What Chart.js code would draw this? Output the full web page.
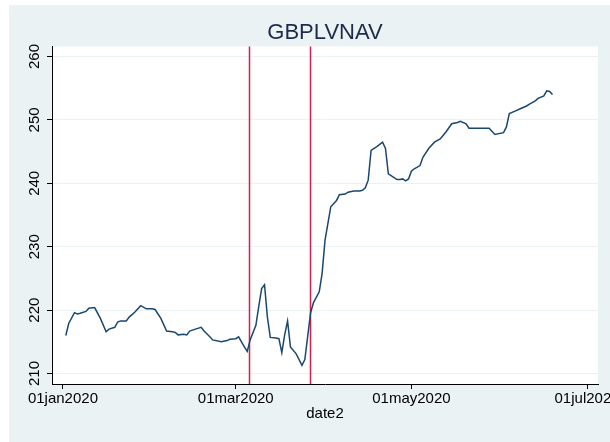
<!DOCTYPE html>
<html>
<head>
<meta charset="utf-8">
<title>GBPLVNAV</title>
<script src="https://cdn.jsdelivr.net/npm/chart.js@4.4.1/dist/chart.umd.min.js"></script>
<style>
    html, body { margin: 0; padding: 0; background: #ffffff; }
    #navChart { display: block; }
</style>
</head>
<body>
<canvas id="navChart" width="610" height="442"></canvas>
<script>
// Days since 01jan2020 and the NAV read for each of them
const dayOffsets = [
    1, 2, 4, 5, 6, 8, 9, 11, 13, 15, 16, 18, 19, 20, 22, 23, 25, 27, 29, 31,
    32, 34, 36, 38, 39, 40, 42, 43, 44, 46, 48, 49, 51, 52, 55, 57, 58, 60, 61, 63,
    64, 65, 67, 68, 69, 70, 71, 72, 74, 75, 76, 77, 78, 79, 81, 83, 84, 86, 87, 89,
    90, 91, 93, 95, 96, 98, 99, 101, 103, 104, 105, 106, 107, 109, 111, 112, 113, 115, 116, 117,
    118, 119, 120, 121, 122, 124, 125, 127, 129, 131, 133, 135, 137, 138, 140, 141, 144, 146, 148, 150,
    153, 154, 155, 157, 159, 161, 162, 164, 165, 167, 168, 169, 170
];
const navValues = [
    216.0, 217.9, 219.6, 219.4, 219.5, 219.8, 220.3, 220.4, 218.7, 216.6, 217.0, 217.3, 218.1, 218.3, 218.3, 218.9, 219.7, 220.7, 220.2, 220.2,
    220.1, 218.7, 216.7, 216.6, 216.5, 216.1, 216.2, 216.1, 216.7, 217.0, 217.3, 216.7, 215.8, 215.3, 215.0, 215.2, 215.4, 215.5, 215.8, 214.2,
    213.5, 215.3, 217.6, 220.6, 223.4, 224.0, 218.9, 215.7, 215.6, 215.5, 213.3, 216.1, 218.3, 214.2, 213.1, 211.3, 212.2, 219.6, 221.2, 222.9,
    225.8, 231.0, 236.3, 237.3, 238.2, 238.3, 238.6, 238.8, 238.8, 238.9, 239.3, 240.5, 245.2, 245.8, 246.5, 245.5, 241.5, 240.9, 240.6, 240.6,
    240.7, 240.4, 240.7, 241.9, 242.3, 242.8, 244.1, 245.5, 246.5, 247.0, 248.1, 249.4, 249.6, 249.8, 249.4, 248.7, 248.7, 248.7, 248.7, 247.7,
    248.0, 248.9, 251.0, 251.4, 251.8, 252.2, 252.5, 253.0, 253.4, 253.8, 254.6, 254.5, 254.0
];

// Vertical markers (days since 01jan2020)
const eventDays = [65, 86];

const xTickDays = [0, 60, 121, 182];
const xTickLabels = ['01jan2020', '01mar2020', '01may2020', '01jul2020'];
const yTickValues = [210, 220, 230, 240, 250, 260];

const FONT = '"Liberation Sans", Arial, sans-serif';
const BG = '#EAF2F3';

// Paints the outer panel and the white plot region
const backgroundPlugin = {
    id: 'stataBackground',
    beforeDraw(chart) {
        const { ctx, chartArea } = chart;
        ctx.save();
        ctx.fillStyle = '#ffffff';
        ctx.fillRect(0, 0, chart.width, chart.height);
        ctx.fillStyle = BG;
        ctx.fillRect(9, 5, chart.width - 9, chart.height - 5);
        ctx.fillStyle = '#ffffff';
        ctx.fillRect(chartArea.left, chartArea.top, chartArea.right - chartArea.left, chartArea.bottom - chartArea.top);
        ctx.restore();
    }
};

// Draws the red xline markers across the plot region
const eventLinesPlugin = {
    id: 'eventLines',
    beforeDatasetsDraw(chart) {
        const { ctx, chartArea, scales } = chart;
        ctx.save();
        ctx.strokeStyle = '#D81E4A';
        ctx.lineWidth = 1.5;
        eventDays.forEach(day => {
            const x = Math.round(scales.x.getPixelForValue(day)) - 0.5;
            ctx.beginPath();
            ctx.moveTo(x, chartArea.top);
            ctx.lineTo(x, chartArea.bottom);
            ctx.stroke();
        });
        ctx.restore();
    }
};

const points = dayOffsets.map((d, i) => ({ x: d, y: navValues[i] }));

new Chart(document.getElementById('navChart'), {
    type: 'line',
    data: {
        datasets: [{
            label: 'GBPLVNAV',
            data: points,
            borderColor: '#1A476F',
            borderWidth: 1.5,
            pointRadius: 0,
            tension: 0,
            fill: false
        }]
    },
    options: {
        responsive: false,
        animation: false,
        devicePixelRatio: 1,
        layout: { padding: { left: 0, right: 12, top: 0, bottom: 0 } },
        plugins: {
            legend: { display: false },
            tooltip: { enabled: false },
            title: {
                display: true,
                fullSize: false,
                text: 'GBPLVNAV',
                color: '#1C2B4A',
                font: { family: FONT, size: 22, weight: 'normal' },
                padding: { top: 20, bottom: 0 }
            }
        },
        scales: {
            x: {
                type: 'linear',
                min: -3.8,
                max: 185.8,
                afterBuildTicks: scale => {
                    scale.ticks = xTickDays.map(v => ({ value: v }));
                },
                afterFit: scale => {
                    scale.height = 58;
                    scale.paddingLeft = 0;
                    scale.paddingRight = 0;
                },
                ticks: {
                    autoSkip: false,
                    minRotation: 0,
                    maxRotation: 0,
                    padding: 1,
                    color: '#000000',
                    font: { family: FONT, size: 15 },
                    callback: value => {
                        const idx = xTickDays.indexOf(value);
                        return idx >= 0 ? xTickLabels[idx] : '';
                    }
                },
                grid: {
                    display: true,
                    drawOnChartArea: false,
                    drawTicks: true,
                    tickLength: 5,
                    tickColor: '#000000',
                    tickWidth: 1
                },
                border: { display: true, color: '#000000', width: 1 },
                title: {
                    display: true,
                    text: 'date2',
                    color: '#000000',
                    font: { family: FONT, size: 15 },
                    padding: { top: 0, bottom: 19 }
                }
            },
            y: {
                type: 'linear',
                min: 208.35,
                max: 261.6,
                afterBuildTicks: scale => {
                    scale.ticks = yTickValues.map(v => ({ value: v }));
                },
                afterFit: scale => {
                    scale.width = 52;
                    scale.paddingTop = 0;
                    scale.paddingBottom = 0;
                },
                ticks: {
                    minRotation: 90,
                    maxRotation: 90,
                    crossAlign: 'center',
                    padding: 0,
                    color: '#000000',
                    font: { family: FONT, size: 15 }
                },
                grid: {
                    color: BG,
                    lineWidth: 1,
                    drawTicks: true,
                    tickLength: 5,
                    tickColor: '#000000',
                    tickWidth: 1
                },
                border: { display: true, color: '#000000', width: 1 }
            }
        }
    },
    plugins: [backgroundPlugin, eventLinesPlugin]
});
</script>
</body>
</html>
